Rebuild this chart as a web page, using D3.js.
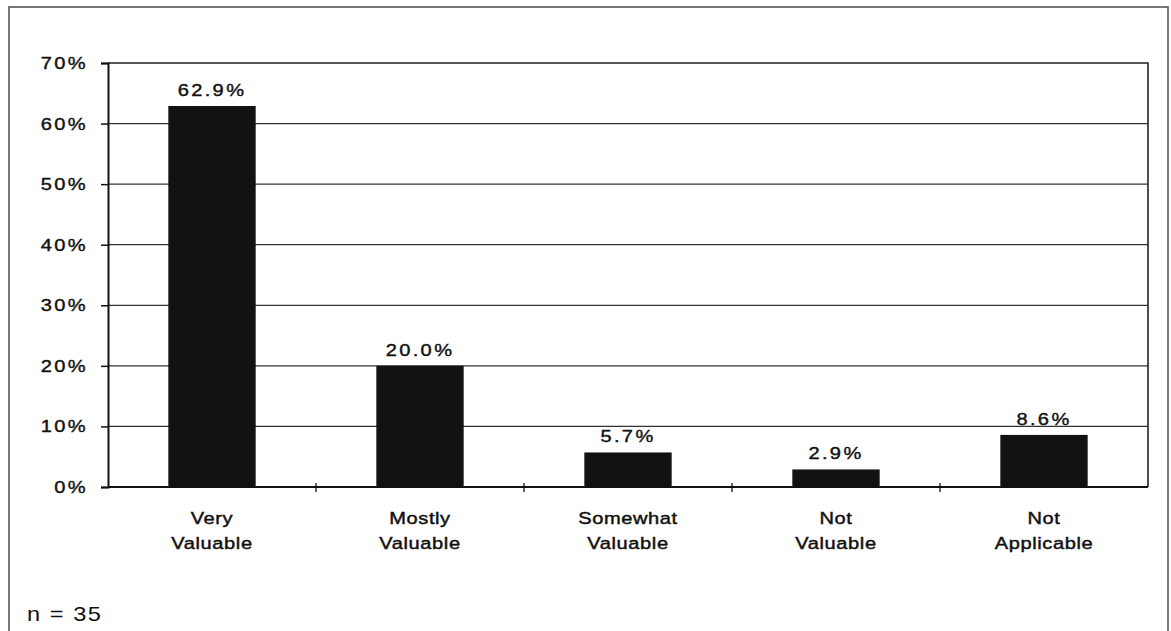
<!DOCTYPE html>
<html>
<head>
<meta charset="utf-8">
<script src="https://cdn.jsdelivr.net/npm/d3@7"></script>
<style>
  html, body { margin: 0; padding: 0; background: #fff; }
  svg { display: block; }
  text { font-family: "Liberation Sans", Arial, Helvetica, sans-serif; fill: #111; }
</style>
</head>
<body>
<svg id="chart" width="1171" height="631"></svg>
<script>
// Survey responses: how valuable respondents found the item (n = 35)
const categories = [["Very", "Valuable"], ["Mostly", "Valuable"], ["Somewhat", "Valuable"], ["Not", "Valuable"], ["Not", "Applicable"]];
const values = [62.9, 20.0, 5.7, 2.9, 8.6];
const valueLabels = ["62.9%", "20.0%", "5.7%", "2.9%", "8.6%"];
const yTicks = [0, 10, 20, 30, 40, 50, 60, 70];
const yTickLabels = ["0%", "10%", "20%", "30%", "40%", "50%", "60%", "70%"];
const sampleNote = "n = 35";

const svg = d3.select("#chart");
const plot = { left: 108, right: 1148, top: 63, bottom: 487 };
const SX = 1.18; // horizontal stretch of the lettering

// Outer frame
svg.append("rect")
  .attr("x", 9).attr("y", 7)
  .attr("width", 1159).attr("height", 630)
  .attr("fill", "none").attr("stroke", "#555").attr("stroke-width", 1.6);

const keys = categories.map((c, i) => i);
const x = d3.scaleBand().domain(keys).range([plot.left, plot.right]).paddingInner(0.58).paddingOuter(0.29);
const xBand = d3.scaleBand().domain(keys).range([plot.left, plot.right]).padding(0);
const y = d3.scaleLinear().domain([0, 70]).range([plot.bottom, plot.top]);

// Horizontal gridlines
svg.append("g").selectAll("line").data(yTicks.filter(t => t > 0 && t < 70)).join("line")
  .attr("x1", plot.left).attr("x2", plot.right)
  .attr("y1", d => y(d)).attr("y2", d => y(d))
  .attr("stroke", "#333").attr("stroke-width", 1.2);

// Plot border (top and right)
svg.append("path")
  .attr("d", `M${plot.left},${plot.top}H${plot.right}V${plot.bottom}`)
  .attr("fill", "none").attr("stroke", "#222").attr("stroke-width", 1.6);

// Bars
svg.append("g").selectAll("rect").data(values).join("rect")
  .attr("x", (d, i) => x(i))
  .attr("width", x.bandwidth())
  .attr("y", d => y(d))
  .attr("height", d => y(0) - y(d))
  .attr("fill", "#121212");

// Y axis
const yAxis = d3.axisLeft(y).tickValues(yTicks).tickSize(7).tickFormat((d, i) => yTickLabels[i]);
const gy = svg.append("g").attr("transform", `translate(${plot.left},0)`).call(yAxis);
gy.select(".domain").attr("stroke", "#111").attr("stroke-width", 2);
gy.selectAll(".tick line").attr("stroke", "#111").attr("stroke-width", 1.5);
gy.selectAll(".tick text")
  .attr("x", -20 / SX)
  .attr("transform", `scale(${SX},1)`)
  .style("font-size", "17px").style("letter-spacing", "2px")
  .style("font-family", "'Liberation Sans', Arial, sans-serif")
  .attr("fill", "#111").attr("stroke", "#111").attr("stroke-width", 0.4);

// X axis baseline with separator ticks between categories
const gx = svg.append("g");
gx.append("line")
  .attr("x1", plot.left).attr("x2", plot.right)
  .attr("y1", plot.bottom).attr("y2", plot.bottom)
  .attr("stroke", "#111").attr("stroke-width", 2.2);
gx.selectAll("line.sep").data(keys.slice(1)).join("line")
  .attr("class", "sep")
  .attr("x1", d => xBand(d)).attr("x2", d => xBand(d))
  .attr("y1", plot.bottom - 4).attr("y2", plot.bottom + 5)
  .attr("stroke", "#111").attr("stroke-width", 1.3);

// Category labels (two lines each)
const cat = svg.append("g").selectAll("text").data(categories).join("text")
  .attr("text-anchor", "middle")
  .attr("transform", (d, i) => `translate(${x(i) + x.bandwidth() / 2},524) scale(${SX},1)`)
  .style("font-size", "17px").style("letter-spacing", "0.5px")
  .attr("stroke", "#111").attr("stroke-width", 0.45);
cat.each(function(d) {
  const t = d3.select(this);
  t.append("tspan").attr("x", 0).attr("dy", 0).text(d[0]);
  t.append("tspan").attr("x", 0).attr("dy", 25).text(d[1]);
});

// Value labels above bars
svg.append("g").selectAll("text").data(values).join("text")
  .attr("text-anchor", "middle")
  .attr("transform", (d, i) => `translate(${x(i) + x.bandwidth() / 2},${y(d) - 10}) scale(${SX},1)`)
  .style("font-size", "17px").style("letter-spacing", "2px")
  .attr("stroke", "#111").attr("stroke-width", 0.4)
  .text((d, i) => valueLabels[i]);

// Sample size note
svg.append("text")
  .attr("transform", `translate(27,621) scale(${SX},1)`)
  .style("font-size", "20px").style("letter-spacing", "1.3px")
  .text(sampleNote);
</script>
</body>
</html>
